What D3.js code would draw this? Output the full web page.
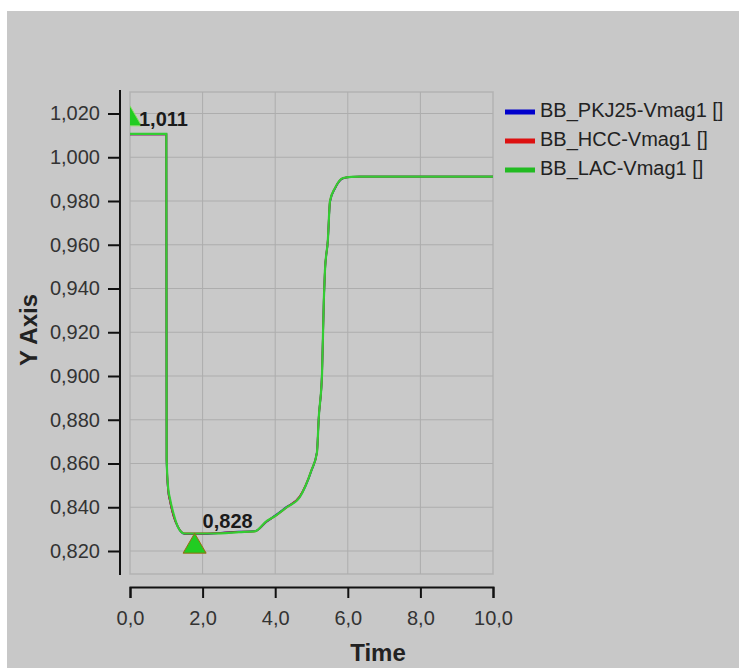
<!DOCTYPE html>
<html>
<head>
<meta charset="utf-8">
<script src="https://cdn.jsdelivr.net/npm/d3@7"></script>
<style>
  body { margin: 0; background: #fff; }
  svg { display: block; font-family: "Liberation Sans", Arial, sans-serif; }
</style>
</head>
<body>
<div id="chart"></div>
<script>
// ---------------  DATA  ---------------
const seriesNames = ["BB_PKJ25-Vmag1 []", "BB_HCC-Vmag1 []", "BB_LAC-Vmag1 []"];
const seriesColors = ["#0000cc", "#dd1111", "#22bb22"];

const times = [0, 0.99, 1.0, 1.01, 1.05, 1.1, 1.2, 1.32, 1.5, 2.0, 2.5, 3.0, 3.44, 3.77, 4.0, 4.32,
  4.68, 5.0, 5.15, 5.2, 5.29, 5.34, 5.37, 5.45, 5.51, 5.65, 5.87, 6.1, 6.33, 10.0];

const pkj25 = [1.0105, 1.0105, 1.0105, 0.861, 0.848, 0.843, 0.836, 0.831, 0.8278, 0.8278, 0.8283, 0.8288, 0.8291, 0.8335,
  0.8362, 0.8402, 0.8449, 0.8568, 0.8652, 0.8808, 0.9012, 0.9348, 0.9478, 0.9618, 0.9796, 0.9858, 0.9903, 0.9910, 0.9911, 0.9911];
const hcc = [1.0105, 1.0105, 1.0105, 0.862, 0.848, 0.843, 0.836, 0.831, 0.828, 0.828, 0.8282, 0.8287, 0.8290, 0.8336,
  0.8360, 0.8400, 0.8450, 0.8570, 0.8650, 0.8810, 0.9010, 0.9350, 0.9480, 0.9620, 0.9800, 0.9860, 0.9905, 0.9910, 0.9911, 0.9911];
const lac = [1.0107, 1.0107, 1.0107, 0.862, 0.849, 0.844, 0.837, 0.831, 0.828, 0.828, 0.8281, 0.8286, 0.8290, 0.8338,
  0.8360, 0.8400, 0.8447, 0.8570, 0.8650, 0.8810, 0.9010, 0.9350, 0.9480, 0.9620, 0.9800, 0.9860, 0.9905, 0.9910, 0.9911, 0.9911];

const xTicks = [0, 2, 4, 6, 8, 10];
const yTicks = [0.82, 0.84, 0.86, 0.88, 0.90, 0.92, 0.94, 0.96, 0.98, 1.00, 1.02];

const maxPoint = { t: 0, v: 1.011, label: "1,011" };
const minPoint = { t: 1.78, v: 0.828, label: "0,828" };

// ---------------  INITIALIZATION  ---------------
const width = 739, height = 668;
const plotTop = 92, plotBottom = 574;

const svg = d3.select("#chart").append("svg")
  .attr("width", width)
  .attr("height", height);

svg.append("rect").attr("x", 7).attr("y", 11)
  .attr("width", width - 7).attr("height", height - 11)
  .attr("fill", "#c8c8c8");

const x = d3.scaleLinear().domain([0, 10]).range([130, 493]);
const y = d3.scaleLinear().domain([0.82, 1.02]).range([551, 113.5]);

const comma = s => s.replace(".", ",");

// plot frame
svg.append("rect")
  .attr("x", x(0)).attr("y", plotTop)
  .attr("width", x(10) - x(0)).attr("height", plotBottom - plotTop)
  .attr("fill", "#c9c9c9").attr("stroke", "#b2b2b2").attr("stroke-width", 1.5);

svg.append("defs").append("clipPath").attr("id", "clip")
  .append("rect")
  .attr("x", x(0)).attr("y", plotTop)
  .attr("width", x(10) - x(0)).attr("height", plotBottom - plotTop);

// ---------------  GRID  ---------------
svg.append("g").selectAll("line")
  .data(xTicks.slice(1, -1))
  .enter().append("line")
  .attr("x1", d => x(d)).attr("x2", d => x(d))
  .attr("y1", plotTop).attr("y2", plotBottom)
  .attr("stroke", "#adadad").attr("stroke-width", 1);

svg.append("g").selectAll("line")
  .data(yTicks)
  .enter().append("line")
  .attr("x1", x(0)).attr("x2", x(10))
  .attr("y1", d => y(d)).attr("y2", d => y(d))
  .attr("stroke", "#adadad").attr("stroke-width", 1);

// ---------------  AXES  ---------------
const xAxis = svg.append("g")
  .attr("transform", "translate(0,587)")
  .call(d3.axisBottom(x).tickValues(xTicks).tickSize(11).tickPadding(13)
    .tickFormat(d => comma(d3.format(".1f")(d))));

svg.append("line")
  .attr("x1", 120).attr("x2", 120).attr("y1", 90).attr("y2", 575)
  .attr("stroke", "#111").attr("stroke-width", 2);

const yAxis = svg.append("g")
  .attr("transform", "translate(120,0)")
  .call(d3.axisLeft(y).tickValues(yTicks).tickSize(12).tickPadding(8)
    .tickFormat(d => comma(d3.format(".3f")(d))));
yAxis.select(".domain").remove();

[xAxis, yAxis].forEach(g => {
  g.selectAll(".domain, .tick line").attr("stroke", "#111").attr("stroke-width", 2);
  g.selectAll(".tick text").attr("fill", "#333").style("font-size", "20px");
});

svg.append("text")
  .attr("x", 378).attr("y", 661)
  .attr("text-anchor", "middle")
  .style("font-size", "24px").style("font-weight", "bold")
  .attr("fill", "#222")
  .text("Time");

svg.append("text")
  .attr("transform", "translate(37,330) rotate(-90)")
  .attr("text-anchor", "middle")
  .style("font-size", "24px").style("font-weight", "bold")
  .attr("fill", "#222")
  .text("Y Axis");

// ---------------  LINES  ---------------
const plot = svg.append("g").attr("clip-path", "url(#clip)");
const line = d3.line().curve(d3.curveMonotoneX).x((d, i) => x(times[i])).y(d => y(d));

[pkj25, hcc, lac].forEach((vals, k) => {
  plot.append("path")
    .datum(vals)
    .attr("d", line)
    .attr("fill", "none")
    .attr("stroke", k == 2 ? "#33cc33" : seriesColors[k])
    .attr("stroke-width", k == 2 ? 2.2 : 1.8);
});

// ---------------  MARKERS  ---------------
const tri = d3.symbol().type(d3.symbolTriangle).size(230);
plot.append("path")
  .attr("d", tri)
  .attr("transform", `translate(${x(maxPoint.t)},${y(maxPoint.v) - 14})`)
  .attr("fill", "#22cc22").attr("stroke", "#88dd66").attr("stroke-width", 1);
plot.append("path")
  .attr("d", tri)
  .attr("transform", `translate(${x(minPoint.t)},${y(minPoint.v) + 13})`)
  .attr("fill", "#22cc22").attr("stroke", "#9a6a10").attr("stroke-width", 1);

svg.append("text")
  .attr("x", x(maxPoint.t) + 9).attr("y", y(maxPoint.v) - 7)
  .style("font-size", "20px").style("font-weight", "bold")
  .attr("fill", "#1a1a1a")
  .text(maxPoint.label);
svg.append("text")
  .attr("x", x(minPoint.t) + 8).attr("y", y(minPoint.v) - 6)
  .style("font-size", "20px").style("font-weight", "bold")
  .attr("fill", "#1a1a1a")
  .text(minPoint.label);

// ---------------  LEGEND  ---------------
const legend = svg.append("g").attr("transform", "translate(505,112)");
const items = legend.selectAll("g")
  .data(seriesNames)
  .enter().append("g")
  .attr("transform", (d, i) => `translate(0,${i * 29})`);
items.append("line")
  .attr("x1", 0).attr("x2", 30).attr("y1", 0).attr("y2", 0)
  .attr("stroke", (d, i) => seriesColors[i]).attr("stroke-width", 5);
items.append("text")
  .attr("x", 35).attr("y", 0)
  .attr("dominant-baseline", "middle")
  .style("font-size", "20px")
  .attr("fill", "#222")
  .text(d => d);
</script>
</body>
</html>
